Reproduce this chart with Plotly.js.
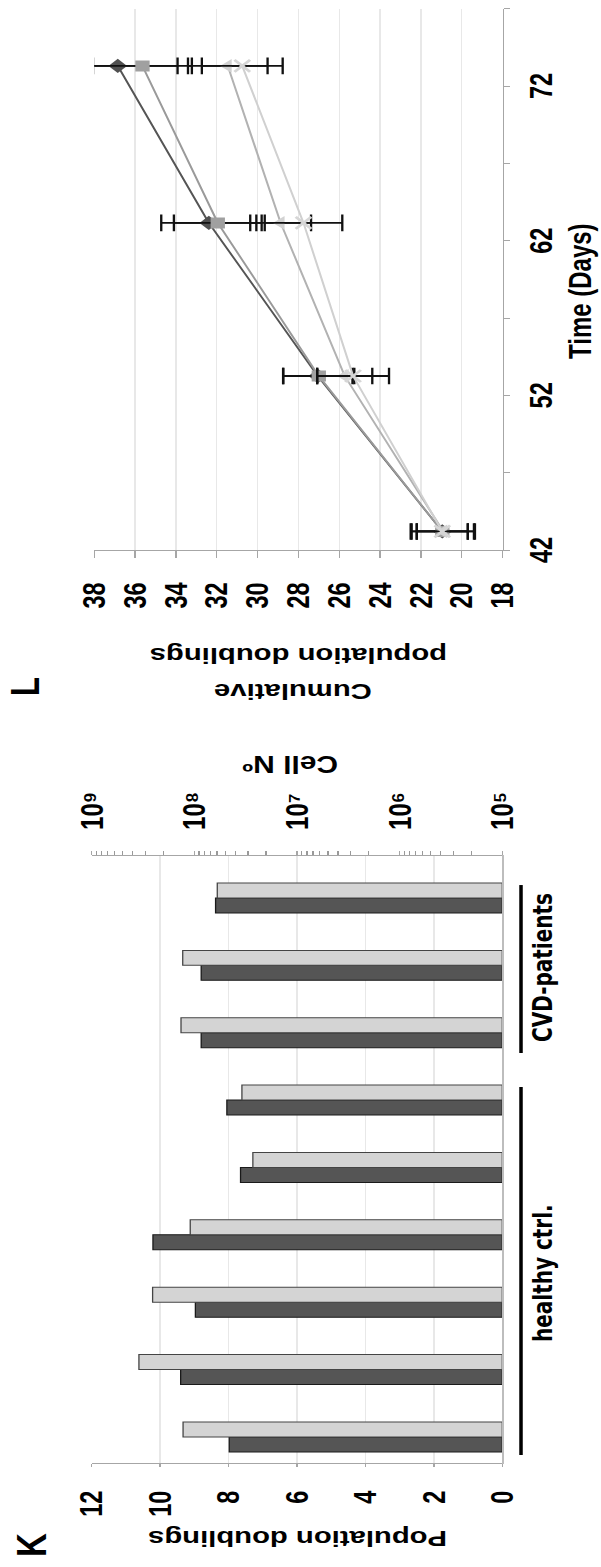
<!DOCTYPE html>
<html><head><meta charset="utf-8">
<script src="https://cdn.plot.ly/plotly-3.0.1.min.js"></script>
<style>
html,body{margin:0;padding:0;background:#fff;overflow:hidden;width:601px;height:1567px}
#wrap{position:absolute;left:0;top:0;width:1567px;height:462px;transform-origin:0 0;
transform:translate(0,1567px) rotate(-90deg) scale(1,1.30087);}
</style></head><body><div id="wrap"></div>
<script>
// ---- Panel K data ----
const donors = ['H1','H2','H3','H4','H5','H6','P1','P2','P3'];
const pdDark  = [7.98, 9.40, 8.97, 10.21, 7.65, 8.05, 8.80, 8.80, 8.38];
const pdLight = [9.33, 10.62, 10.22, 9.12, 7.29, 7.61, 9.39, 9.34, 8.33];
const pdTicks = [0, 2, 4, 6, 8, 10, 12];
const cellTicks = [1e5, 1e6, 1e7, 1e8, 1e9];
const cellTickText = ['10⁵', '10⁶', '10⁷', '10⁸', '10⁹'];
// ---- Panel L data ----
const days = [43.2, 53.25, 63.15, 73.3];
const cumPD1 = [20.95, 27.05, 32.39, 36.85];
const err1   = [1.55, 1.70, 2.33, 2.93];
const cumPD2 = [20.95, 27.00, 31.95, 35.64];
const err2   = [1.25, 1.74, 2.15, 2.42];
const cumPD3 = [20.90, 25.73, 28.87, 31.46];
const err3   = [1.55, 1.35, 1.49, 1.95];
const cumPD4 = [20.95, 25.32, 27.75, 30.75];
const err4   = [1.25, 1.76, 1.90, 1.98];
const timeTicks = [42, 52, 62, 72];

const FAM = 'Liberation Sans, Arial, sans-serif';
const bold = (size, fam) => ({family: fam || FAM, size: size, color: '#000', weight: 'bold'});

const traces = [
  {type:'bar', x: donors, y: pdDark, xaxis:'x', yaxis:'y', name:'PD 1',
   marker:{color:'#555555', line:{color:'#1a1a1a', width:1}}, showlegend:false},
  {type:'bar', x: donors, y: pdLight, xaxis:'x', yaxis:'y', name:'PD 2',
   marker:{color:'#d4d4d4', line:{color:'#444', width:1}}, showlegend:false},
  {type:'scatter', x: [], y: [], xaxis:'x', yaxis:'y2', showlegend:false, hoverinfo:'skip'},
];
function ser(y, e, sym, mcol, lcol, size, extra){
  const m = Object.assign({symbol: sym, color: mcol, size: size}, extra||{});
  return {type:'scatter', mode:'lines+markers', x: days, y: y, xaxis:'x2', yaxis:'y3',
    line:{color: lcol, width: 1.6}, marker: m, showlegend:false,
    error_y:{type:'data', array: e, visible:true, color:'#111', thickness:1.8, width:8.3}};
}
traces.push(ser(cumPD1, err1, 'diamond', '#505050', '#555555', 11));
traces.push(ser(cumPD2, err2, 'square', '#a0a0a0', '#9a9a9a', 11));
traces.push(ser(cumPD3, err3, 'triangle-up', '#d2d2d2', '#b2b2b2', 12));
traces.push(ser(cumPD4, err4, 'x-thin-open', '#d6d6d6', '#d0d0d0', 12, {line:{color:'#d6d6d6', width:2.4}}));

const axLine = '#a6a6a6', grid = '#e8e8e8';
const layout = {
  width:1567, height:462, margin:{l:0, r:0, t:0, b:0, pad:0},
  paper_bgcolor:'#fff', plot_bgcolor:'rgba(0,0,0,0)',
  barmode:'group', bargap:0.555, bargroupgap:0,
  font: bold(23.5),
  xaxis:{type:'category', domain:[0.06656, 0.45393], range:[-0.382, 8.628], anchor:'y',
    showticklabels:false, ticks:'', showline:true, linecolor:'#bdbdbd', showgrid:false, zeroline:false},
  yaxis:{domain:[0.16423, 0.84742], range:[0, 12], tickvals: pdTicks, anchor:'x',
    ticks:'outside', ticklen:3.3, tickcolor:axLine, showline:true, linecolor:axLine,
    showgrid:true, gridcolor:grid, zeroline:false, tickfont: bold(23.5), ticklabelstandoff:19},
  yaxis2:{type:'log', range:[5, 9], tickvals: cellTicks, ticktext: cellTickText, overlaying:'y', side:'right', anchor:'x',
    ticks:'outside', ticklen:4, tickcolor:axLine, showline:true, linecolor:axLine, showgrid:false, zeroline:false,
    minor:{dtick:'D1', ticks:'outside', ticklen:3.5, tickcolor:'#999'},
    tickfont: bold(24), ticklabelstandoff:16},
  xaxis2:{domain:[0.64901, 0.99445], range:[42, 77], anchor:'y3', tickvals: timeTicks,
    ticks:'outside', ticklen:4.6, tickcolor:axLine, showline:true, linecolor:axLine, showgrid:false, zeroline:false,
    minor:{tick0:42, dtick:5, ticks:'outside', ticklen:4.6, tickcolor:axLine, showgrid:false},
    tickfont: bold(23.5), ticklabelstandoff:4},
  yaxis3:{domain:[0.16389, 0.84309], range:[18, 38], dtick:2, anchor:'x2',
    ticks:'outside', ticklen:6.7, tickcolor:axLine, showline:true, linecolor:axLine,
    showgrid:true, gridcolor:grid, zeroline:false, tickfont: bold(23.5), ticklabelstandoff:20},
  shapes:[
    {type:'line', xref:'paper', yref:'paper', x0:0.07147, x1:0.30632, y0:0.1331, y1:0.1331, line:{color:'#000', width:2.7}},
    {type:'line', xref:'paper', yref:'paper', x0:0.3280, x1:0.4352, y0:0.1331, y1:0.1331, line:{color:'#000', width:2.7}},
  ],
  annotations:[
    {text:'K', x:0.01404, y:0.9493, font:bold(33)},
    {text:'L', x:0.5622, y:0.9584, font:bold(31)},
    {text:'Population doublings', x:0.01851, y:0.505, textangle:-90, font:bold(22.5)},
    {text:'Cell Nº', x:0.5124, y:0.5175, textangle:-90, font:bold(23)},
    {text:'Cumulative', x:0.5590, y:0.5133, textangle:-90, font:bold(22.5)},
    {text:'population doublings', x:0.5820, y:0.505, textangle:-90, font:bold(22.5)},
    {text:'Time (Days)', x:0.8143, y:0.0349, font:bold(24)},
    {text:'healthy ctrl.', x:0.1876, y:0.0973, font:bold(20, 'DejaVu Sans, sans-serif')},
    {text:'CVD-patients', x:0.3826, y:0.0982, font:bold(20, 'DejaVu Sans, sans-serif')},
  ].map(a => Object.assign({xref:'paper', yref:'paper', showarrow:false, xanchor:'center', yanchor:'middle', borderpad:0}, a)),
};
Plotly.newPlot('wrap', traces, layout, {staticPlot:true, displayModeBar:false});
</script></body></html>
